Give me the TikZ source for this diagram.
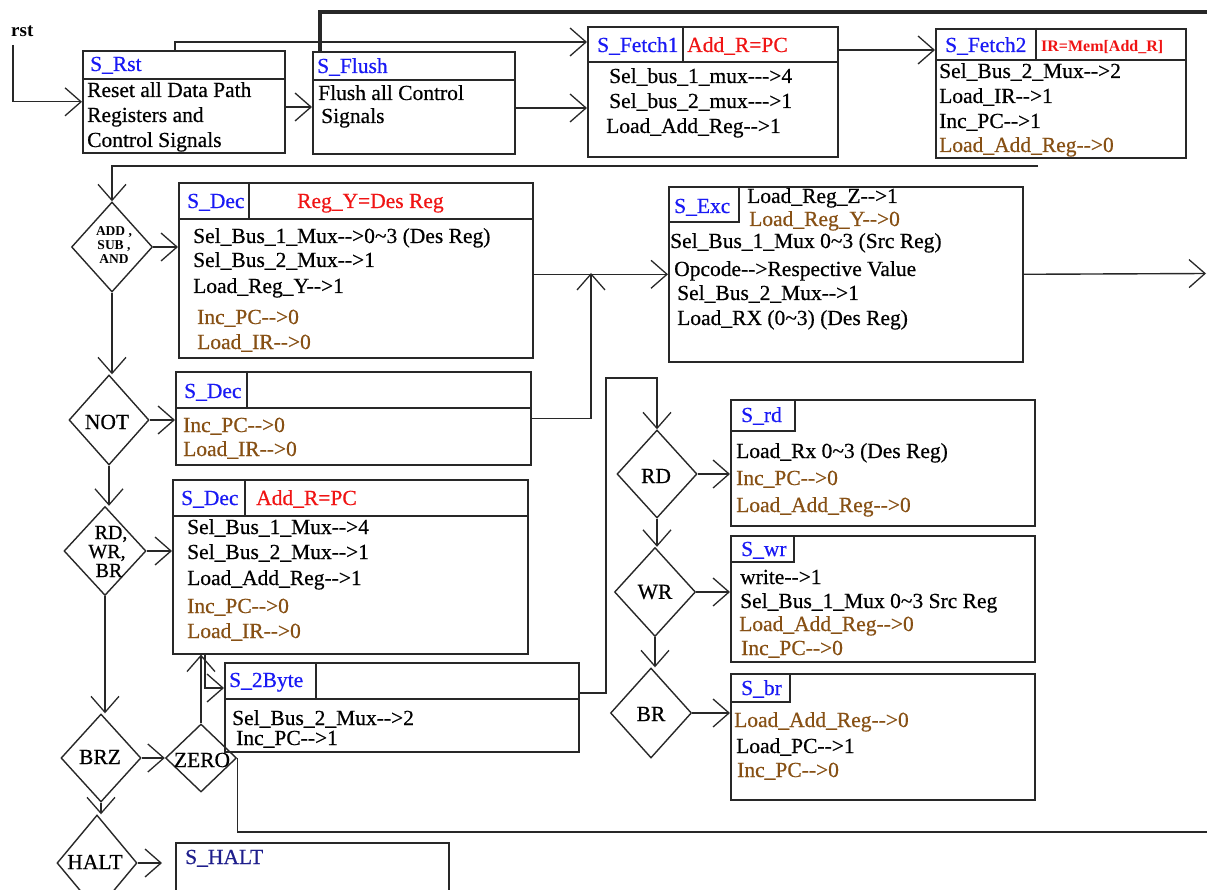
\documentclass[tikz,border=0pt]{standalone}
\usepackage{fontspec}
\setmainfont{Liberation Serif}[UprightFeatures={FakeBold=0.5}]
\usetikzlibrary{arrows.meta,shapes.geometric}
\definecolor{tblue}{RGB}{25,25,245}
\definecolor{tred}{RGB}{240,20,20}
\definecolor{tbrown}{RGB}{135,80,20}
\definecolor{tnavy}{RGB}{30,30,140}
\definecolor{ln}{RGB}{40,40,40}
\newcommand{\tarr}{-\kern0pt-\kern0pt>}
\newcommand{\tarrr}{-\kern0pt-\kern0pt-\kern0pt>}
\newcommand{\tld}{\textasciitilde}
\begin{document}
\begin{tikzpicture}[x=1pt,y=-1pt,
  box/.style={draw=ln,line width=1.6pt,rectangle,anchor=north west,inner sep=0pt},
  dia/.style={draw=ln,line width=1.4pt,diamond,inner sep=0pt},
  con/.style={draw=ln,line width=1.4pt},
  arr/.style={con,-{Straight Barb[length=16pt,width=28pt,line width=1.3pt]}},
  txt/.style={anchor=base west,inner sep=0pt,font=\fontsize{21.5}{24}\selectfont},
  ttl/.style={txt,text=tblue},
  rtx/.style={txt,text=tred},
  btx/.style={txt,text=tbrown},
  dtx/.style={inner sep=0pt,align=center,font=\fontsize{21.5}{19}\selectfont},
  dtb/.style={inner sep=0pt,anchor=base,font=\fontsize{20}{19}\selectfont}
]
\useasboundingbox (0,0) rectangle (1207,890);
\fill[white] (0,0) rectangle (1207,890);
\clip (0,0) rectangle (1207,890);

% ---------- boxes ----------
\node[box,minimum width=202pt,minimum height=102pt] (Rst) at (82,50) {};
\node[box,minimum width=202pt,minimum height=102pt] (Flush) at (312,51) {};
\node[box,minimum width=250pt,minimum height=130pt] (Fetch1) at (587,26) {};
\node[box,minimum width=250pt,minimum height=129pt] (Fetch2) at (935,28) {};
\node[box,minimum width=354pt,minimum height=175pt] (Dec1) at (178,182) {};
\node[box,minimum width=355pt,minimum height=93pt] (Dec2) at (175,371) {};
\node[box,minimum width=355pt,minimum height=174pt] (Dec3) at (172,479) {};
\node[box,minimum width=354pt,minimum height=89pt] (TwoB) at (224,662) {};
\node[box,minimum width=354pt,minimum height=175pt] (Exc) at (668,186) {};
\node[box,minimum width=304pt,minimum height=126pt] (Srd) at (730,399) {};
\node[box,minimum width=304pt,minimum height=126pt] (Swr) at (730,535) {};
\node[box,minimum width=304pt,minimum height=126pt] (Sbr) at (730,673) {};
\node[box,minimum width=273pt,minimum height=60pt] (Shalt) at (175,842) {};

% header dividers
\draw[con,line width=1.6pt] (82,79) -- (284,79);
\draw[con,line width=1.6pt] (312,80) -- (514,80);
\draw[con,line width=1.6pt] (587,62) -- (837,62) (683,26) -- (683,62);
\draw[con,line width=1.6pt] (935,60) -- (1185,60) (1036,28) -- (1036,60);
\draw[con,line width=1.6pt] (178,219) -- (532,219) (249,182) -- (249,219);
\draw[con,line width=1.6pt] (175,408) -- (530,408) (247,371) -- (247,408);
\draw[con,line width=1.6pt] (172,516) -- (527,516) (245,479) -- (245,516);
\draw[con,line width=1.6pt] (224,699) -- (578,699) (316,662) -- (316,699);
\draw[con,line width=1.6pt] (668,222) -- (739,222) -- (739,186);
\draw[con,line width=1.6pt] (730,431) -- (795,431) -- (795,399);
\draw[con,line width=1.6pt] (730,562) -- (794,562) -- (794,535);
\draw[con,line width=1.6pt] (730,702) -- (790,702) -- (790,673);

% ---------- diamonds ----------
\node[dia,minimum width=81pt,minimum height=90pt] (ADD) at (112,247) {};
\node[dia,minimum width=80pt,minimum height=90pt] (NOT) at (109,420) {};
\node[dia,minimum width=82pt,minimum height=89pt] (RWB) at (105,551) {};
\node[dia,minimum width=80pt,minimum height=88pt] (BRZ) at (101,758) {};
\node[dia,minimum width=71pt,minimum height=68pt] (ZERO) at (201,758) {};
\node[dia,minimum width=80pt,minimum height=96pt] (HALT) at (97,863) {};
\node[dia,minimum width=80pt,minimum height=88pt] (RD) at (657,474) {};
\node[dia,minimum width=81pt,minimum height=89pt] (WR) at (655,592) {};
\node[dia,minimum width=81pt,minimum height=90pt] (BR) at (651,713) {};

\node[dtx,font=\fontsize{13.5}{14}\selectfont\bfseries] (ADDt) at (114,245) {ADD ,\\SUB ,\\AND};
\node[dtx] (NOTt) at (107,422) {NOT};
\node[dtb] (RWBt1) at (111,539) {RD,};
\node[dtb] (RWBt2) at (107,558) {WR,};
\node[dtb] (RWBt3) at (109,577) {BR};
\node[dtx] (BRZt) at (100,757) {BRZ};
\node[dtx] (ZEROt) at (202,760) {ZERO};
\node[dtx] (HALTt) at (95,862) {HALT};
\node[dtx] (RDt) at (656,476) {RD};
\node[dtx] (WRt) at (655,592) {WR};
\node[dtx] (BRt) at (651,714) {BR};

% ---------- texts ----------
\node[txt,font=\fontsize{19}{22}\selectfont\bfseries] (rstl) at (11,37) {rst};

\node[ttl] (t1) at (90,71) {S\_Rst};
\node[txt] (t2) at (87,97) {Reset all Data Path};
\node[txt] (t3) at (87,122) {Registers and};
\node[txt] (t4) at (87,147) {Control Signals};

\node[ttl] (t5) at (317,73) {S\_Flush};
\node[txt] (t6) at (318,100) {Flush all Control};
\node[txt] (t7) at (321,123) {Signals};

\node[ttl] (t8) at (597,52) {S\_Fetch1};
\node[rtx] (t9) at (687,52) {Add\_R=PC};
\node[txt] (t10) at (609,83) {Sel\_bus\_1\_mux\tarrr4};
\node[txt] (t11) at (609,108) {Sel\_bus\_2\_mux\tarrr1};
\node[txt] (t12) at (606,133) {Load\_Add\_Reg\tarr1};

\node[ttl] (t13) at (945,52) {S\_Fetch2};
\node[rtx,font=\fontsize{16}{18}\selectfont\bfseries] (t14) at (1041,52) {IR=Mem[Add\_R]};
\node[txt] (t15) at (939,78) {Sel\_Bus\_2\_Mux\tarr2};
\node[txt] (t16) at (939,103) {Load\_IR\tarr1};
\node[txt] (t17) at (939,128) {Inc\_PC\tarr1};
\node[btx] (t18) at (939,152) {Load\_Add\_Reg\tarr0};

\node[ttl] (t19) at (187,208) {S\_Dec};
\node[rtx] (t20) at (297,208) {Reg\_Y=Des Reg};
\node[txt] (t21) at (193,243) {Sel\_Bus\_1\_Mux\tarr0\tld3 (Des Reg)};
\node[txt] (t22) at (193,267) {Sel\_Bus\_2\_Mux\tarr1};
\node[txt] (t23) at (193,293) {Load\_Reg\_Y\tarr1};
\node[btx] (t24) at (197,324) {Inc\_PC\tarr0};
\node[btx] (t25) at (197,349) {Load\_IR\tarr0};

\node[ttl] (t26) at (184,398) {S\_Dec};
\node[btx] (t27) at (183,432) {Inc\_PC\tarr0};
\node[btx] (t28) at (183,456) {Load\_IR\tarr0};

\node[ttl] (t29) at (181,505) {S\_Dec};
\node[rtx] (t30) at (256,505) {Add\_R=PC};
\node[txt] (t31) at (187,534) {Sel\_Bus\_1\_Mux\tarr4};
\node[txt] (t32) at (187,559) {Sel\_Bus\_2\_Mux\tarr1};
\node[txt] (t33) at (187,585) {Load\_Add\_Reg\tarr1};
\node[btx] (t34) at (187,613) {Inc\_PC\tarr0};
\node[btx] (t35) at (187,638) {Load\_IR\tarr0};

\node[ttl] (t36) at (229,687) {S\_2Byte};
\node[txt] (t37) at (232,725) {Sel\_Bus\_2\_Mux\tarr2};
\node[txt] (t38) at (236,745) {Inc\_PC\tarr1};

\node[txt,text=tnavy] (t39) at (185,864) {S\_HALT};

\node[ttl] (t40) at (674,213) {S\_Exc};
\node[txt] (t41) at (747,203) {Load\_Reg\_Z\tarr1};
\node[btx] (t42) at (749,226) {Load\_Reg\_Y\tarr0};
\node[txt] (t43) at (670,248) {Sel\_Bus\_1\_Mux 0\tld3 (Src Reg)};
\node[txt] (t44) at (674,276) {Opcode\tarr Respective Value};
\node[txt] (t45) at (677,300) {Sel\_Bus\_2\_Mux\tarr1};
\node[txt] (t46) at (677,325) {Load\_RX (0\tld3) (Des Reg)};

\node[ttl] (t47) at (741,422) {S\_rd};
\node[txt] (t48) at (736,458) {Load\_Rx 0\tld3 (Des Reg)};
\node[btx] (t49) at (736,485) {Inc\_PC\tarr0};
\node[btx] (t50) at (736,512) {Load\_Add\_Reg\tarr0};

\node[ttl] (t51) at (741,556) {S\_wr};
\node[txt] (t52) at (740,584) {write\tarr1};
\node[txt] (t53) at (740,608) {Sel\_Bus\_1\_Mux 0\tld3 Src Reg};
\node[btx] (t54) at (739,631) {Load\_Add\_Reg\tarr0};
\node[btx] (t55) at (741,655) {Inc\_PC\tarr0};

\node[ttl] (t56) at (741,695) {S\_br};
\node[btx] (t57) at (734,727) {Load\_Add\_Reg\tarr0};
\node[txt] (t58) at (736,753) {Load\_PC\tarr1};
\node[btx] (t59) at (737,777) {Inc\_PC\tarr0};

% ---------- coordinates ----------
\coordinate (rstin) at (13,45);
\coordinate (r1) at ([xshift=-9pt]Rst.north);
\coordinate (th) at ([xshift=8pt]Flush.north west);
\coordinate (thend) at (1207,12);
\coordinate (ret) at (1038,166);
\coordinate (j1) at (591,273);
\coordinate (excout) at (1206,273.5);
\coordinate (d3b) at (205,0 |- Dec3.south);
\coordinate (w1) at (606,378);
\coordinate (zout) at (1207,832);

% ---------- connectors ----------
\draw[arr] (rstin) |- (Rst.west);
\draw[arr] (r1) |- (Fetch1.west |- 0,42);
\draw[arr] (Rst.east |- 0,107) -- (Flush.west |- 0,107);
\draw[con,line width=4pt] (th) |- (thend);
\draw[arr] (Flush.east |- 0,108) -- (Fetch1.west |- 0,108);
\draw[arr] (Fetch1.east |- 0,50) -- (Fetch2.west |- 0,50);
\draw[arr] (ret) -| (ADD.north);
\draw[arr] (ADD.east) -- (ADD.east -| Dec1.west);
\draw[arr] (ADD.south) -- (ADD.south |- NOT.north);
\draw[arr] (NOT.east) -- (NOT.east -| Dec2.west);
\draw[arr] (Dec1.east |- Exc.west) -- (Exc.west);
\draw[arr] (Dec2.east) -| (j1);
\draw[arr] (Exc.east) -- (excout);
\draw[arr] (NOT.south) -- (NOT.south |- RWB.north);
\draw[arr] (RWB.east) -- (RWB.east -| Dec3.west);
\draw[arr] (RWB.south) -- (RWB.south |- BRZ.north);
\draw[arr] (BRZ.east) -- (ZERO.west);
\draw[arr] (ZERO.north) -- (ZERO.north |- Dec3.south);
\draw[arr] (d3b) |- (TwoB.west |- 0,688);
\draw[arr] (TwoB.east |- 0,693) -| (w1) -| (RD.north);
\draw[con] (ZERO.east) |- (zout);
\draw[arr] (BRZ.south) -- (BRZ.south |- HALT.north);
\draw[arr,shorten >=13pt] (HALT.east) -- (HALT.east -| Shalt.west);
\draw[arr] (RD.east) -- (RD.east -| Srd.west);
\draw[arr] (RD.south) -- (RD.south |- WR.north);
\draw[arr] (WR.east) -- (WR.east -| Swr.west);
\draw[arr] (WR.south) -- (WR.south |- BR.north);
\draw[arr] (BR.east) -- (BR.east -| Sbr.west);
\end{tikzpicture}
\end{document}
